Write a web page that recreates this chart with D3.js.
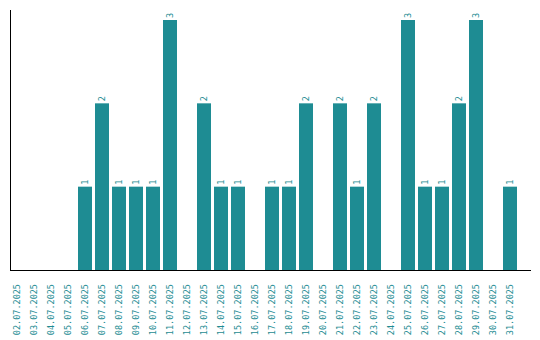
<!DOCTYPE html>
<html>
<head>
<meta charset="utf-8">
<script src="https://cdn.jsdelivr.net/npm/d3@7"></script>
<style>
  body { margin: 0; background: #fff; }
</style>
</head>
<body>
<svg id="chart"></svg>
<script>
const dates = ["02.07.2025","03.07.2025","04.07.2025","05.07.2025","06.07.2025","07.07.2025",
  "08.07.2025","09.07.2025","10.07.2025","11.07.2025","12.07.2025","13.07.2025","14.07.2025",
  "15.07.2025","16.07.2025","17.07.2025","18.07.2025","19.07.2025","20.07.2025","21.07.2025",
  "22.07.2025","23.07.2025","24.07.2025","25.07.2025","26.07.2025","27.07.2025","28.07.2025",
  "29.07.2025","30.07.2025","31.07.2025"];
const counts = [0,0,0,0,1,2,1,1,1,3,0,2,1,1,0,1,1,2,0,2,1,2,0,3,1,1,2,3,0,1];

const width = 540, height = 340;
const color = "#1e8c93";
const font = "8.5px 'DejaVu Sans Mono', monospace";

const svg = d3.select("#chart")
  .attr("width", width)
  .attr("height", height);

const x = d3.scaleBand()
  .domain(dates)
  .range([10, 517])
  .paddingInner(3 / 17)
  .paddingOuter(0);

const y = d3.scaleLinear()
  .domain([0, 3])
  .range([270, 20]);

const data = dates.map((d, i) => ({date: d, value: counts[i]}));

svg.append("g")
  .selectAll("rect")
  .data(data.filter(d => d.value > 0))
  .join("rect")
  .attr("x", d => x(d.date))
  .attr("y", d => y(d.value))
  .attr("width", x.bandwidth())
  .attr("height", d => y(0) - y(d.value))
  .attr("fill", color);

// value labels
svg.append("g")
  .style("font", font)
  .attr("fill", color)
  .selectAll("text")
  .data(data.filter(d => d.value > 0))
  .join("text")
  .attr("transform", d => `translate(${x(d.date) + x.bandwidth() / 2},${y(d.value) - 2}) rotate(-90)`)
  .attr("dy", "0.35em")
  .attr("text-anchor", "start")
  .text(d => d.value);

// axes lines
svg.append("line")
  .attr("x1", 10.5).attr("x2", 10.5)
  .attr("y1", 10).attr("y2", 270)
  .attr("stroke", "#000");

svg.append("line")
  .attr("x1", 10).attr("x2", 531)
  .attr("y1", 270.5).attr("y2", 270.5)
  .attr("stroke", "#000");

// date labels
svg.append("g")
  .style("font", font)
  .attr("fill", color)
  .selectAll("text")
  .data(dates)
  .join("text")
  .attr("transform", d => `translate(${x(d) + x.bandwidth() / 2},284) rotate(-90)`)
  .attr("dy", "0.35em")
  .attr("text-anchor", "end")
  .text(d => d);
</script>
</body>
</html>
